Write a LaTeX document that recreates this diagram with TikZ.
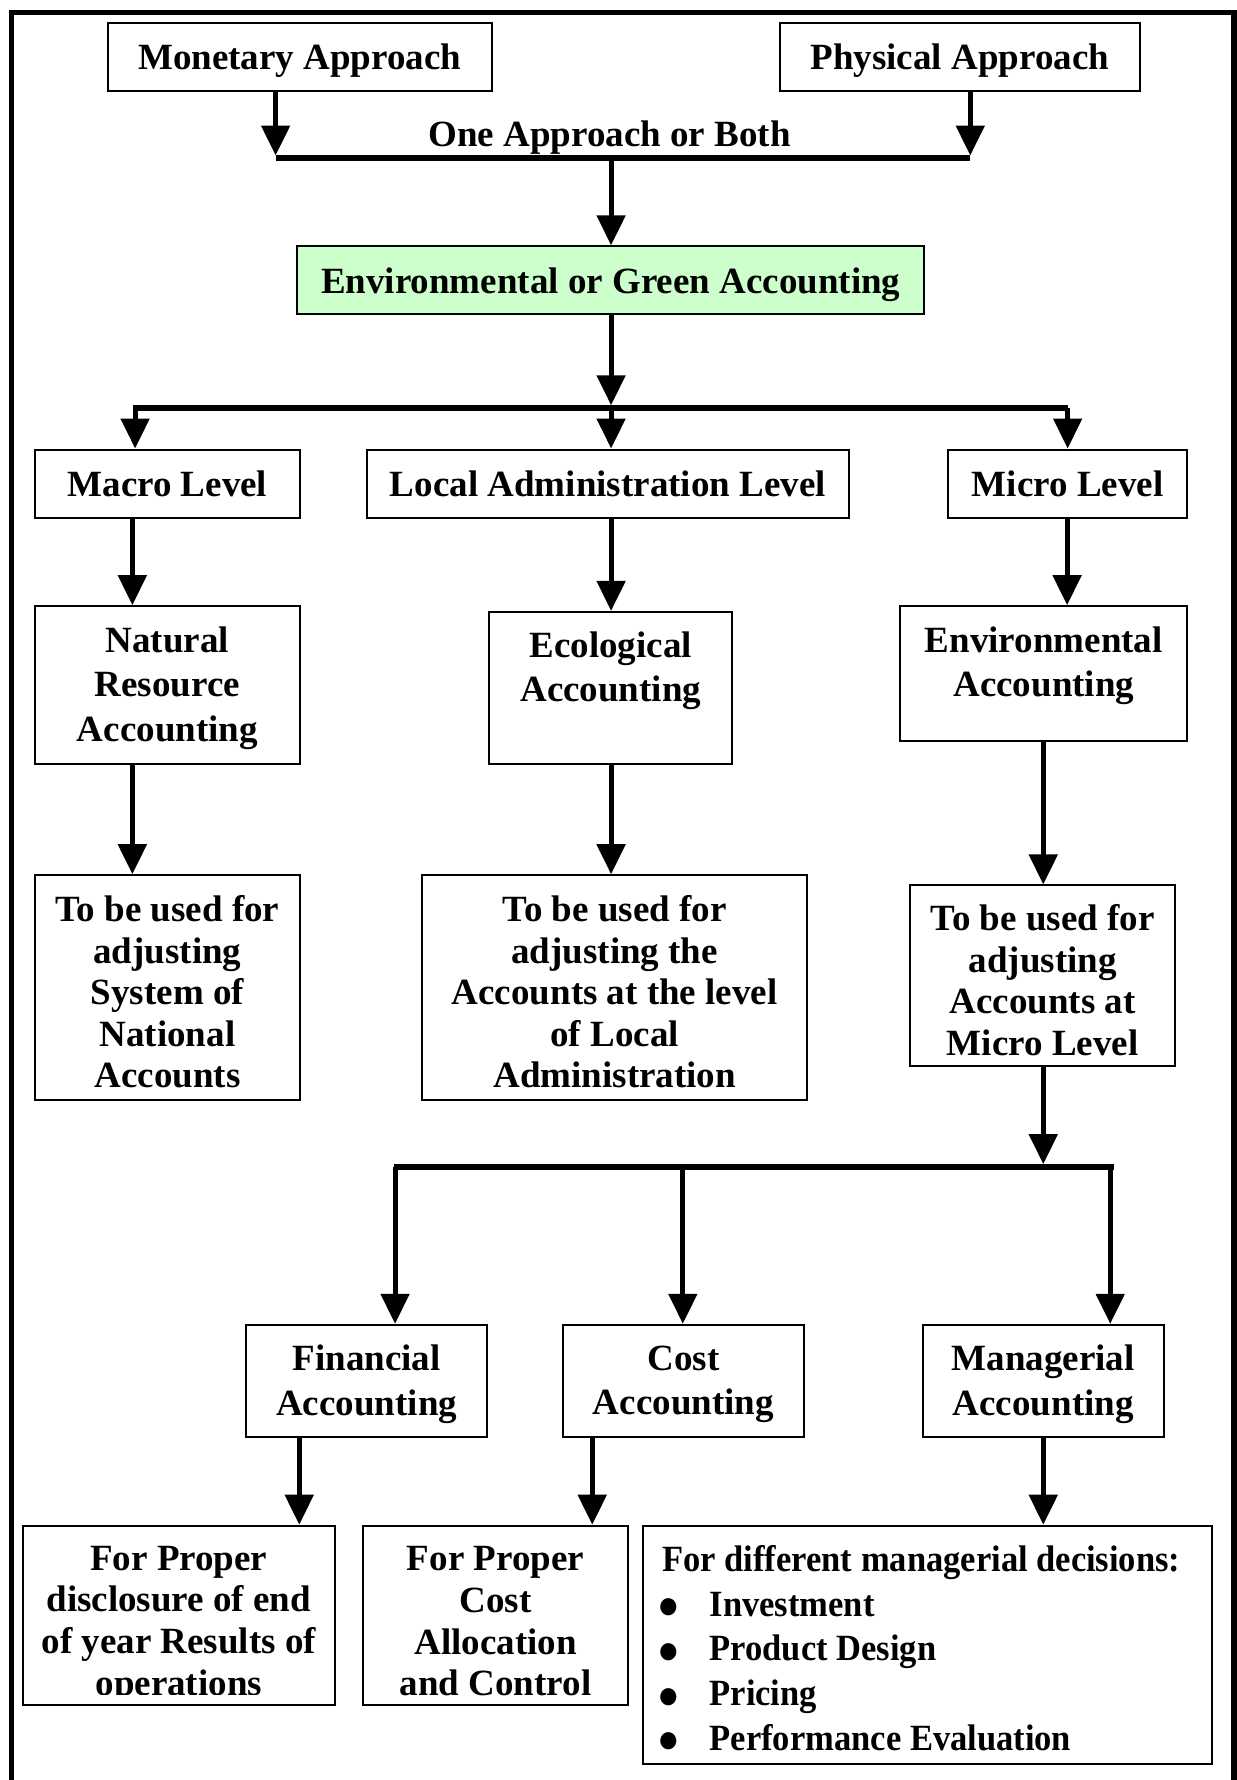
\documentclass[tikz,border=0pt]{standalone}
\usepackage{fontspec}
\setmainfont{Liberation Serif}
\newfontfamily\narrowserif[FakeStretch=0.933]{Liberation Serif}
\usetikzlibrary{arrows.meta}
\newcommand{\myu}{0.5675pt}
\newcommand{\bulitem}{\makebox[23.7pt][l]{\hspace*{-2.3pt}\fontsize{20}{0}\selectfont\raisebox{-1.2pt}{●}}}
\definecolor{paleGreen}{HTML}{CCFFCC}
\begin{document}
\begin{tikzpicture}[x=0.5675pt,y=-0.5675pt,
  box/.style={draw, line width=1pt, inner sep=0pt, fill=white},
  lbl/.style={font=\bfseries\fontsize{18.5}{22.2}\selectfont, align=center, inner sep=0pt},
  tight/.style={font=\bfseries\fontsize{18.5}{20.8}\selectfont},
  narrowlbl/.style={font=\narrowserif\bfseries\fontsize{18.5}{22.4}\selectfont, align=left, inner sep=0pt},
  one/.style={text height=13.5pt, text depth=0.5pt},
  arr/.style={line width=2.5pt, -{Triangle[length=15pt,width=14pt]}},
  bar/.style={line width=3pt},
  frame/.style={line width=2.8pt, line join=miter}]
\useasboundingbox (0,0) rectangle (1089,1568);
\fill[white] (0,0) rectangle (1089,1568);
\draw[frame] (10,1570) -- (10,11) -- (1087,11) -- (1087,1570);

% top row
\node[box, lbl, one, minimum width=338*\myu, minimum height=60*\myu] (mon) at (264,50) {Monetary Approach};
\node[box, lbl, one, minimum width=317*\myu, minimum height=60*\myu] (phy) at (845.5,50) {Physical Approach};
\node[lbl, one] (both) at (537,118) {One Approach or Both};
\node[box, lbl, one, fill=paleGreen, minimum width=552*\myu, minimum height=60*\myu] (green) at (538,247) {Environmental or Green Accounting};

% levels
\node[box, lbl, one, minimum width=233*\myu, minimum height=60*\myu] (macro) at (147.5,426) {Macro Level};
\node[box, lbl, one, minimum width=425*\myu, minimum height=60*\myu] (local) at (535.5,426) {Local Administration Level};
\node[box, lbl, one, minimum width=211*\myu, minimum height=60*\myu] (micro) at (940.5,426) {Micro Level};

% accounting types
\node[box, minimum width=233*\myu, minimum height=139*\myu] (nat) at (147.5,603.5) {};
\node[lbl] (natt) at (147.5,606) {Natural\\Resource\\Accounting};
\node[box, minimum width=214*\myu, minimum height=134*\myu] (eco) at (538,606) {};
\node[lbl] (ecot) at (538,590.8) {Ecological\\Accounting};
\node[box, minimum width=253*\myu, minimum height=119*\myu] (env) at (919.5,593.5) {};
\node[lbl] (envt) at (919.5,586.6) {Environmental\\Accounting};

% uses
\node[box, minimum width=233*\myu, minimum height=198*\myu] (sna) at (147.5,870) {};
\node[lbl, tight] (snat) at (147.5,873.7) {To be used for\\adjusting\\System of\\National\\Accounts};
\node[box, minimum width=339*\myu, minimum height=198*\myu] (ladj) at (541.5,870) {};
\node[lbl, tight] (ladjt) at (541.5,873.7) {To be used for\\adjusting the\\Accounts at the level\\of Local\\Administration};
\node[box, minimum width=233*\myu, minimum height=159*\myu] (madj) at (918.5,859.5) {};
\node[lbl, tight] (madjt) at (918.5,863.5) {To be used for\\adjusting\\Accounts at\\Micro Level};

% micro branches
\node[box, minimum width=212*\myu, minimum height=99*\myu] (fin) at (323,1216.5) {};
\node[lbl] (fint) at (323,1219.3) {Financial\\Accounting};
\node[box, minimum width=212*\myu, minimum height=99*\myu] (cost) at (602,1216.5) {};
\node[lbl] (costt) at (602,1219.3) {Cost\\Accounting};
\node[box, minimum width=212*\myu, minimum height=99*\myu] (man) at (919,1216.5) {};
\node[lbl] (mant) at (919,1219.3) {Managerial\\Accounting};

% bottom
\node[box, minimum width=275*\myu, minimum height=158*\myu] (disc) at (157.5,1423) {};
\begin{scope}
\clip (21,1345) rectangle (294,1493);
\node[lbl, tight] (disct) at (157.5,1431) {For Proper\\disclosure of end\\of year Results of\\operations};
\end{scope}
\node[box, minimum width=233*\myu, minimum height=158*\myu] (alloc) at (436.5,1423) {};
\node[lbl, tight] (alloct) at (436.5,1428.2) {For Proper\\Cost\\Allocation\\and Control};
\node[box, minimum width=502*\myu, minimum height=210*\myu] (dec) at (817,1449) {};
\node[narrowlbl, anchor=west] (dect) at (583,1452.7) {For different managerial decisions:\\
\bulitem Investment\\
\bulitem Product Design\\
\bulitem Pricing\\
\bulitem Performance Evaluation};

% bars
\coordinate (b1l) at (242.8,139.5);
\coordinate (b1r) at (854.7,139.5);
\coordinate (b1m) at (538.3,139.5);
\coordinate (b2l) at (117,359.5);
\coordinate (b2r) at (941,359.5);
\coordinate (b2m) at (538.3,359.5);
\coordinate (b3l) at (347,1028);
\coordinate (b3r) at (981.5,1028);
\draw[bar] (b1l) -- (b1r);
\draw[bar] (b2l) -- (b2r);
\draw[bar] (b3l) -- (b3r);

% arrows
\draw[arr] (mon.south -| b1l) -- (242.8,137);
\draw[arr] (phy.south -| b1r) -- (854.7,137);
\draw[arr] (b1m) -- (green.north -| b1m);
\draw[arr] (green.south -| b2m) -- (538.3,357);
\draw[arr] (119,359.5) -- (macro.north -| 119,0);
\draw[arr] (b2m) -- (local.north -| b2m);
\draw[arr] (940.5,359.5) -- (micro.north -| 940.5,0);

\draw[arr] (macro.south -| 116.6,0) -- (nat.north -| 116.6,0);
\draw[arr] (local.south -| 538.3,0) -- (eco.north -| 538.3,0);
\draw[arr] (micro.south -| 940,0) -- (env.north -| 940,0);
\draw[arr] (nat.south -| 116.6,0) -- (sna.north -| 116.6,0);
\draw[arr] (eco.south -| 538.3,0) -- (ladj.north -| 538.3,0);
\draw[arr] (env.south -| 919,0) -- (madj.north -| 919,0);
\draw[arr] (madj.south -| 919,0) -- (919,1025.5);

\draw[arr] (348,1028) -- (fin.north -| 348,0);
\draw[arr] (601.5,1028) -- (cost.north -| 601.5,0);
\draw[arr] (978,1028) -- (man.north -| 978,0);
\draw[arr] (fin.south -| 263.6,0) -- (disc.north -| 263.6,0);
\draw[arr] (cost.south -| 521.7,0) -- (alloc.north -| 521.7,0);
\draw[arr] (man.south -| 919,0) -- (dec.north -| 919,0);
\end{tikzpicture}
\end{document}
